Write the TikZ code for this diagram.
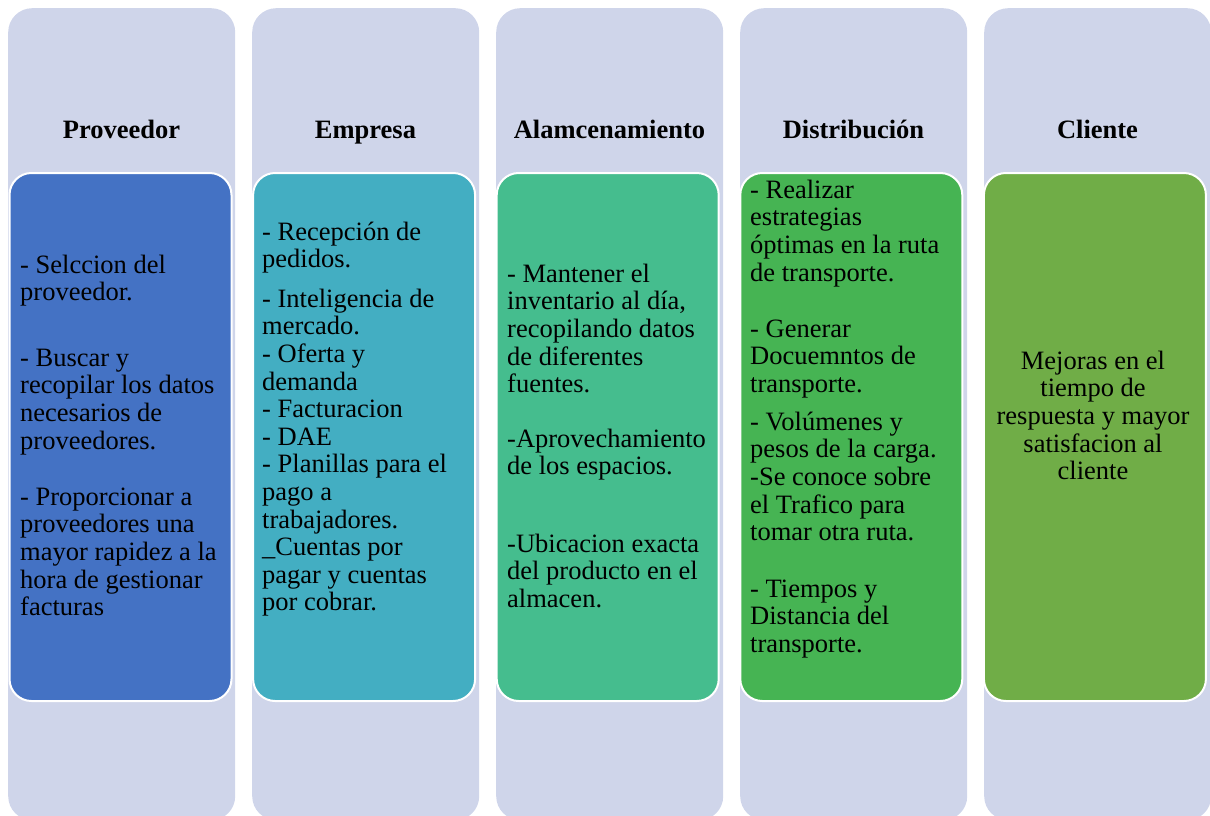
\documentclass[tikz,border=0pt]{standalone}
\usepackage{fontspec}
\setmainfont{Liberation Serif}
\usetikzlibrary{positioning}
\definecolor{clav}{HTML}{CFD5EA}
\definecolor{cblue}{HTML}{4472C4}
\definecolor{cteal}{HTML}{43AEC2}
\definecolor{cmint}{HTML}{45BD8E}
\definecolor{cgreen}{HTML}{46B453}
\definecolor{colive}{HTML}{70AD47}
\tikzset{
  every picture/.style={x=1pt, y=-1pt},
  lane/.style={fill=clav, rounded corners=24pt, minimum width=227pt, minimum height=812pt, inner sep=0pt, anchor=north west},
  card/.style={fill=#1, draw=white, line width=2pt, rounded corners=22pt, minimum width=222pt, minimum height=528pt, inner sep=0pt, anchor=north west},
  card/.default=cblue,
  title/.style={font=\fontsize{26.5}{27.6}\selectfont\bfseries, anchor=base, inner sep=0pt},
  body/.style={font=\fontsize{26.5}{27.6}\selectfont, align=left, inner sep=0pt, anchor=north west},
}

\begin{document}
\begin{tikzpicture}
  \useasboundingbox (0,0) rectangle (1210,816);
  % five lanes with their titles and cards
  \foreach \i/\ttl/\col in {1/Proveedor/cblue, 2/Empresa/cteal, 3/Alamcenamiento/cmint, 4/Distribución/cgreen, 5/Cliente/colive} {
    \node[lane] (lane\i) at ({8+244*(\i-1)}, 8) {};
    \node[title] (title\i) at ({121.5+244*(\i-1)}, 138) {\ttl};
    \node[card=\col] (card\i) at ({8.5+243.6*(\i-1)}, 172) {};
  }
  % card texts
  \node[body] (txt1) at (20,253.7) {\strut- Selccion del\\ proveedor.\\[37.8pt] - Buscar y\\ recopilar los datos\\ necesarios de\\ proveedores.\\[28.6pt] - Proporcionar a\\ proveedores una\\ mayor rapidez a la\\ hora de gestionar\\ facturas};
  \node[body] (txt2) at (262,220.7) {\strut- Recepción de\\ pedidos.\\[11.8pt] - Inteligencia de\\ mercado.\\ - Oferta y\\ demanda\\ - Facturacion\\ - DAE\\ - Planillas para el\\ pago a\\ trabajadores.\\ \textunderscore Cuentas por\\ pagar y cuentas\\ por cobrar.};
  \node[body] (txt3) at (507,262.7) {\strut- Mantener el\\ inventario al día,\\ recopilando datos\\ de diferentes\\ fuentes.\\[27pt] -Aprovechamiento\\ de los espacios.\\[49.8pt] -Ubicacion exacta\\ del producto en el\\ almacen.};
  \node[body] (txt4) at (750,178.7) {\strut- Realizar\\ estrategias\\ óptimas en la ruta\\ de transporte.\\[28.6pt] - Generar\\ Docuemntos de\\ transporte.\\[10.2pt] - Volúmenes y\\ pesos de la carga.\\ -Se conoce sobre\\ el Trafico para\\ tomar otra ruta.\\[29pt] - Tiempos y\\ Distancia del\\ transporte.};
  \node[body, align=center, anchor=north] (txt5) at (1093,349.7) {\strut Mejoras en el\\ tiempo de\\ respuesta y mayor\\ satisfacion al\\ cliente};
\end{tikzpicture}
\end{document}
